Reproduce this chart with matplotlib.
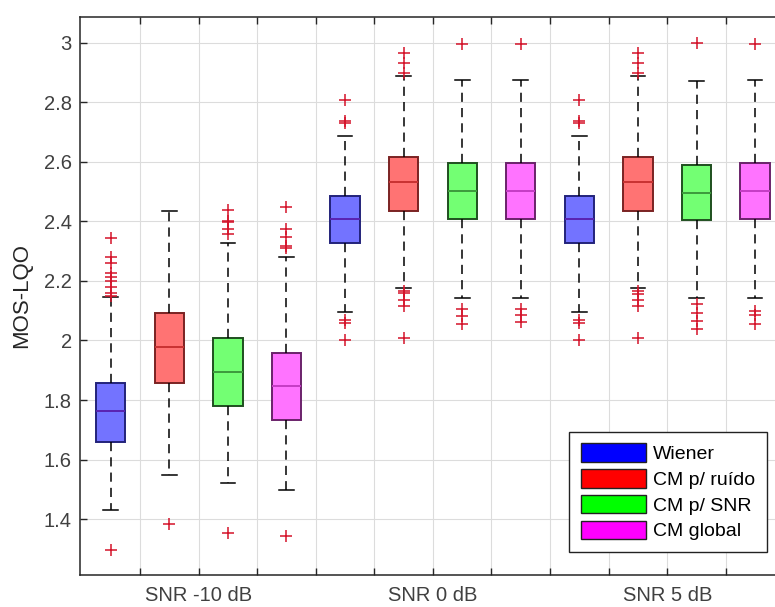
import matplotlib
matplotlib.use("Agg")
import matplotlib.pyplot as plt
from matplotlib.patches import Patch

plt.rcParams["font.family"] = ["Liberation Sans", "DejaVu Sans"]

groups = ["SNR -10 dB", "SNR 0 dB", "SNR 5 dB"]
methods = ["Wiener", "CM p/ ruído", "CM p/ SNR", "CM global"]

# one entry per box: groups x methods
q1 = [1.660, 1.856, 1.779, 1.734, 2.327, 2.436, 2.408, 2.408, 2.327, 2.436, 2.404, 2.408]
medians = [1.762, 1.977, 1.894, 1.847, 2.408, 2.531, 2.501, 2.501, 2.408, 2.531, 2.496, 2.501]
q3 = [1.856, 2.091, 2.007, 1.957, 2.487, 2.617, 2.596, 2.596, 2.485, 2.617, 2.591, 2.596]
whislo = [1.430, 1.548, 1.522, 1.496, 2.095, 2.175, 2.143, 2.143, 2.095, 2.175, 2.143, 2.143]
whishi = [2.145, 2.434, 2.326, 2.280, 2.688, 2.889, 2.876, 2.876, 2.688, 2.889, 2.871, 2.876]
fliers = [
    [1.296, 2.151, 2.16, 2.18, 2.2, 2.215, 2.228, 2.262, 2.282, 2.346],
    [1.385],
    [1.352, 2.359, 2.376, 2.397, 2.403, 2.44],
    [1.342, 2.312, 2.316, 2.348, 2.375, 2.447],
    [2.001, 2.059, 2.068, 2.73, 2.736, 2.809],
    [2.01, 2.115, 2.135, 2.16, 2.165, 2.9, 2.932, 2.965],
    [2.057, 2.082, 2.106, 2.996],
    [2.061, 2.087, 2.106, 2.996],
    [2.001, 2.059, 2.07, 2.73, 2.736, 2.809],
    [2.01, 2.115, 2.135, 2.155, 2.165, 2.9, 2.932, 2.965],
    [2.037, 2.065, 2.093, 2.121, 2.999],
    [2.057, 2.085, 2.10, 2.996],
]

face_colors = ["#7373ff", "#ff7373", "#73ff73", "#ff73ff"]
edge_colors = ["#22227a", "#7a2222", "#1f4f1f", "#6a226a"]
median_colors = ["#5a22b0", "#c83232", "#3c9a3c", "#c43cc4"]
legend_colors = ["#0000ff", "#ff0000", "#00ff00", "#ff00ff"]

stats = []
for i in range(len(medians)):
    stats.append(dict(q1=q1[i], med=medians[i], q3=q3[i],
                      whislo=whislo[i], whishi=whishi[i], fliers=fliers[i]))

fig = plt.figure(figsize=(7.75, 6.07), dpi=100)
ax = fig.add_axes([80 / 775, 1 - 575 / 607, 695 / 775, 558 / 607])

positions = list(range(1, len(stats) + 1))
bp = ax.bxp(stats, positions=positions, widths=0.5, patch_artist=True,
            showfliers=True, manage_ticks=False,
            whiskerprops=dict(color="black", linestyle=(0, (6, 4)), linewidth=1.1),
            capprops=dict(color="black", linewidth=1.1),
            flierprops=dict(marker="+", markeredgecolor="#d4132a",
                            markersize=9, markeredgewidth=1.1, linestyle="none"))

for i, box in enumerate(bp["boxes"]):
    k = i % 4
    box.set_facecolor(face_colors[k])
    box.set_edgecolor(edge_colors[k])
    box.set_linewidth(1.4)
for i, med in enumerate(bp["medians"]):
    med.set_color(median_colors[i % 4])
    med.set_linewidth(1.4)

ticks = [p + 0.5 for p in positions[:-1]]
labels = [""] * len(ticks)
for g, name in enumerate(groups):
    labels[g * 4 + 1] = name
ax.set_xticks(ticks)
ax.set_xticklabels(labels)
ax.set_xlim(0.476, 12.34)
ax.set_ylim(1.212, 3.087)
ax.set_yticks([1.4, 1.6, 1.8, 2.0, 2.2, 2.4, 2.6, 2.8, 3.0])
ax.set_yticklabels(["1.4", "1.6", "1.8", "2", "2.2", "2.4", "2.6", "2.8", "3"])

ax.grid(True, color="#dcdcdc", linewidth=0.8)
ax.set_axisbelow(True)
ax.tick_params(direction="in", top=True, length=5, width=1, colors="#262626",
               labelsize=14.5, labelcolor="#404040")
ax.tick_params(axis="x", pad=8)
ax.tick_params(axis="y", pad=6)
for s in ["left", "bottom", "top"]:
    ax.spines[s].set_color("#262626")
    ax.spines[s].set_linewidth(1.1)
ax.spines["right"].set_visible(False)

ax.set_ylabel("MOS-LQO", fontsize=16, color="#262626", labelpad=8)

handles = [Patch(facecolor=c, edgecolor="#222222", linewidth=1) for c in legend_colors]
leg = ax.legend(handles, methods, loc="lower right", bbox_to_anchor=(0.988, 0.041),
                fontsize=14, handlelength=3.35, handleheight=1.1, handletextpad=0.35,
                labelspacing=0.3, borderpad=0.6, borderaxespad=0, fancybox=False,
                framealpha=1)
leg.get_frame().set_edgecolor("#222222")
leg.get_frame().set_linewidth(1)

fig.savefig("out.png", dpi=100)
